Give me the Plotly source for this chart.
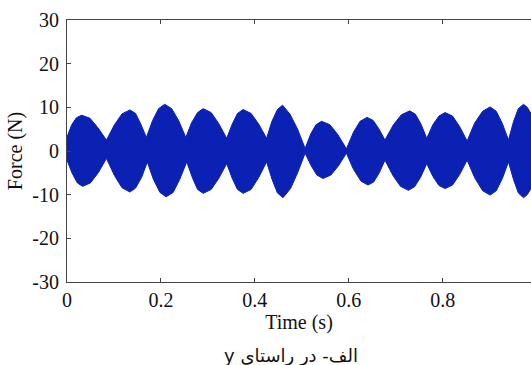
import plotly.graph_objects as go

# Upper envelope of the force signal (time s, force N)
t_upper = [0.000, 0.010, 0.020, 0.031, 0.049, 0.066,
           0.084, 0.101, 0.117, 0.134, 0.146, 0.157,
           0.169, 0.182, 0.195, 0.208, 0.223, 0.238,
           0.253, 0.265, 0.278, 0.290, 0.307, 0.323,
           0.340, 0.352, 0.363, 0.375, 0.392, 0.408,
           0.425, 0.436, 0.448, 0.459, 0.475, 0.491,
           0.507, 0.519, 0.530, 0.542, 0.560, 0.577,
           0.595, 0.610, 0.624, 0.639, 0.652, 0.664,
           0.677, 0.695, 0.712, 0.730, 0.742, 0.754,
           0.766, 0.779, 0.792, 0.805, 0.821, 0.836,
           0.852, 0.868, 0.885, 0.901, 0.914, 0.927,
           0.940, 0.951, 0.961, 0.972, 0.980, 0.988]
f_upper = [3.2, 6.0, 7.6, 8.2, 7.5, 5.3,
           2.5, 6.0, 8.5, 9.4, 8.6, 6.2,
           3.1, 6.9, 9.7, 10.7, 9.7, 6.9,
           3.1, 6.4, 8.8, 9.7, 8.8, 6.3,
           2.9, 6.2, 8.6, 9.5, 8.6, 6.2,
           2.9, 6.7, 9.5, 10.5, 8.4, 5.0,
           0.6, 3.9, 6.0, 6.8, 6.0, 3.7,
           0.5, 4.3, 6.8, 7.7, 7.0, 5.1,
           2.5, 6.0, 8.3, 9.2, 8.4, 6.1,
           2.9, 6.0, 8.0, 8.8, 8.0, 5.6,
           2.3, 6.4, 9.1, 10.1, 9.1, 6.3,
           2.5, 6.8, 9.7, 10.7, 10.0, 8.6]

# Lower envelope of the force signal (time s, force N)
t_lower = [0.000, 0.011, 0.022, 0.033, 0.050, 0.067,
           0.084, 0.101, 0.117, 0.134, 0.146, 0.159,
           0.171, 0.184, 0.198, 0.211, 0.226, 0.240,
           0.255, 0.267, 0.278, 0.290, 0.307, 0.323,
           0.340, 0.352, 0.363, 0.375, 0.392, 0.408,
           0.425, 0.437, 0.448, 0.460, 0.476, 0.491,
           0.507, 0.520, 0.532, 0.545, 0.562, 0.578,
           0.595, 0.610, 0.626, 0.641, 0.653, 0.665,
           0.677, 0.694, 0.710, 0.727, 0.740, 0.753,
           0.766, 0.779, 0.792, 0.805, 0.821, 0.836,
           0.852, 0.868, 0.885, 0.901, 0.914, 0.927,
           0.940, 0.951, 0.961, 0.972, 0.980, 0.988]
f_lower = [-2.1, -5.1, -7.3, -8.1, -7.3, -4.9,
           -1.7, -5.6, -8.4, -9.4, -8.5, -6.0,
           -2.5, -6.5, -9.5, -10.5, -9.5, -6.5,
           -2.5, -6.1, -8.8, -9.7, -8.8, -6.3,
           -2.9, -6.3, -8.8, -9.7, -8.8, -6.1,
           -2.5, -6.6, -9.6, -10.7, -8.6, -5.0,
           -0.5, -3.4, -5.5, -6.3, -5.5, -3.4,
           -0.5, -4.2, -6.9, -7.8, -7.1, -5.0,
           -2.1, -5.6, -8.1, -9.0, -8.2, -6.0,
           -2.9, -5.8, -7.9, -8.6, -7.8, -5.4,
           -2.1, -6.1, -9.1, -10.1, -9.1, -6.3,
           -2.5, -6.6, -9.6, -10.7, -10.0, -8.6]

x_tickvals = [0, 0.2, 0.4, 0.6, 0.8]
x_ticktext = ["0", "0.2", "0.4", "0.6", "0.8"]
y_tickvals = [-30, -20, -10, 0, 10, 20, 30]
y_ticktext = ["-30", "-20", "-10", "0", "10", "20", "30"]

x_title = "Time (s)"
y_title = "Force (N)"
caption = "الف- در راستای y"

band_x = t_upper + t_lower[::-1]
band_y = f_upper + f_lower[::-1]

blue = "#0b21b4"
serif = "Liberation Serif, Times New Roman, serif"

fig = go.Figure()
fig.add_trace(go.Scatter(
    x=band_x, y=band_y, mode="lines", fill="toself",
    fillcolor=blue, line=dict(color=blue, width=1),
    hoverinfo="skip", showlegend=False,
))

axis_common = dict(
    showline=True, linecolor="#444444", linewidth=1,
    ticks="inside", ticklen=4, tickcolor="#444444",
    showgrid=False, zeroline=False,
    tickfont=dict(family=serif, size=20, color="#111111"),
)

fig.update_layout(
    width=531, height=365,
    margin=dict(l=67, r=0, t=20, b=83),
    paper_bgcolor="white", plot_bgcolor="white",
    xaxis=dict(range=[0, 0.988], tickvals=x_tickvals, ticktext=x_ticktext,
               mirror="ticks",
               title=dict(text=x_title, font=dict(family=serif, size=20, color="#111111"),
                          standoff=2),
               **axis_common),
    yaxis=dict(range=[-30, 30], tickvals=y_tickvals, ticktext=y_ticktext,
               ticklabelstandoff=3,
               title=dict(text=y_title, font=dict(family=serif, size=20, color="#111111"),
                          standoff=4),
               **axis_common),
    annotations=[dict(
        text="\u202b" + caption + "\u202c", xref="paper", yref="paper", x=0.483, y=-0.28,
        xanchor="center", yanchor="middle", showarrow=False,
        font=dict(family="DejaVu Sans, sans-serif", size=18, color="#111111"),
    )],
)

fig.write_html("out.html")
